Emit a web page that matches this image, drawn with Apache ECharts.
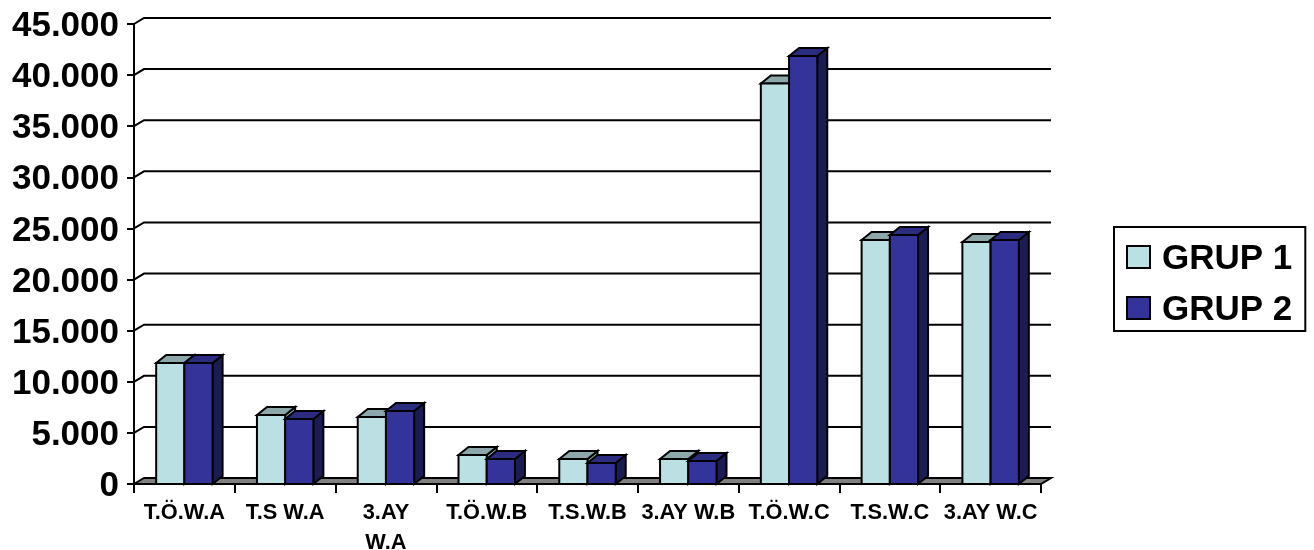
<!DOCTYPE html>
<html>
<head>
<meta charset="utf-8">
<style>html,body{margin:0;padding:0;background:#fff}#chart{width:1314px;height:550px}</style>
<script src="https://cdn.jsdelivr.net/npm/echarts@6/dist/echarts.min.js"></script>
</head>
<body>
<div id="chart"></div>
<script>
const categories = ['T.Ö.W.A', 'T.S W.A', '3.AY\nW.A', 'T.Ö.W.B', 'T.S.W.B', '3.AY W.B', 'T.Ö.W.C', 'T.S.W.C', '3.AY W.C'];
const grup1 = [11840, 6750, 6550, 2840, 2450, 2450, 39180, 23870, 23670];
const grup2 = [11840, 6360, 7140, 2450, 2050, 2250, 41870, 24360, 23870];
const yTicks = [0, 5000, 10000, 15000, 20000, 25000, 30000, 35000, 40000, 45000];

const FONT = '"Liberation Sans", Arial, sans-serif';
const DEPTH_X = 10, DEPTH_Y = 6;          // oblique offset of the chart's back wall
const BAR_DX = 10, BAR_DY = 8;            // oblique offset of each column
const BAR_SHARE = 0.28;                   // column width as a share of the category band

const palette = [
  { front: '#BBE0E3', top: '#8CA8AA', side: '#8CA8AA' },
  { front: '#333399', top: '#2B2B80', side: '#1C1C55' }
];

const line = { stroke: '#000', lineWidth: 2, lineJoin: 'miter' };

// One oblique column: side and top faces first, then the front face over them.
function column(dodge) {
  return function (params, api) {
    const idx = api.value(0);
    const [cx, yTop] = api.coord([idx, api.value(1)]);
    const yBase = api.coord([idx, 0])[1];
    const w = api.size([1, 0])[0] * BAR_SHARE;
    const x0 = cx + dodge * w, x1 = x0 + w;
    const c = palette[dodge + 1];
    return {
      type: 'group',
      children: [
        { type: 'polygon', shape: { points: [[x1, yTop], [x1 + BAR_DX, yTop - BAR_DY], [x1 + BAR_DX, yBase - BAR_DY], [x1, yBase]] },
          style: Object.assign({ fill: c.side }, line) },
        { type: 'polygon', shape: { points: [[x0, yTop], [x0 + BAR_DX, yTop - BAR_DY], [x1 + BAR_DX, yTop - BAR_DY], [x1, yTop]] },
          style: Object.assign({ fill: c.top }, line) },
        { type: 'rect', shape: { x: x0, y: yTop, width: w, height: yBase - yTop },
          style: Object.assign({ fill: c.front }, line) }
      ]
    };
  };
}

// Gridline on the back wall with its short diagonal run to the value axis.
function wallLine(params, api) {
  const v = api.value(0);
  const y = api.coord([0, v])[1];
  const box = params.coordSys;
  const left = box.x, right = box.x + box.width;
  const children = [];
  if (v === 0) {
    children.push({ type: 'polygon',
      shape: { points: [[left, y], [left + DEPTH_X, y - DEPTH_Y], [right + DEPTH_X, y - DEPTH_Y], [right, y]] },
      style: Object.assign({ fill: '#808080' }, line) });
  } else {
    children.push({ type: 'polyline',
      shape: { points: [[left, y], [left + DEPTH_X, y - DEPTH_Y], [right + DEPTH_X, y - DEPTH_Y]] },
      style: Object.assign({ fill: null }, line) });
  }
  return { type: 'group', children };
}

const chart = echarts.init(document.getElementById('chart'), null, { renderer: 'canvas' });
chart.setOption({
  animation: false,
  backgroundColor: '#fff',
  grid: { left: 134, right: 273, top: 24, bottom: 66, containLabel: false, outerBoundsMode: 'none' },
  legend: {
    data: ['GRUP 1', 'GRUP 2'],
    orient: 'vertical',
    left: 1114,
    top: 227,
    padding: [10, 13, 3, 12],
    itemWidth: 23,
    itemHeight: 22,
    itemGap: 11,
    icon: 'rect',
    borderColor: '#000',
    borderWidth: 2,
    selectedMode: false,
    formatter: '{t|{name}}',
    textStyle: {
      rich: {
        t: { fontFamily: FONT, fontWeight: 'bold', fontSize: 35, color: '#000', lineHeight: 40, padding: [5, 0, 0, 7] }
      }
    }
  },
  xAxis: {
    type: 'category',
    data: categories,
    boundaryGap: true,
    axisLine: { lineStyle: { color: '#000', width: 2 } },
    axisTick: { show: true, alignWithLabel: false, length: 9, lineStyle: { color: '#000', width: 2 } },
    axisLabel: { interval: 0, margin: 14, fontFamily: FONT, fontWeight: 'bold', fontSize: 21.8, color: '#000', lineHeight: 30 },
    splitLine: { show: false }
  },
  yAxis: {
    type: 'value',
    min: 0,
    max: 45000,
    interval: 5000,
    axisLine: { show: true, lineStyle: { color: '#000', width: 2 } },
    axisTick: { show: true, length: 7, lineStyle: { color: '#000', width: 2 } },
    axisLabel: {
      margin: 15,
      formatter: v => '{n|' + String(v).replace(/\B(?=(\d{3})+$)/g, '.') + '}',
      rich: {
        n: { fontFamily: FONT, fontWeight: 'bold', fontSize: 35, color: '#000', padding: [5, 0, 0, 0] }
      }
    },
    splitLine: { show: false }
  },
  series: [
    {
      type: 'custom',
      name: 'wall',
      silent: true,
      clip: false,
      z: 1,
      renderItem: wallLine,
      encode: { y: 0 },
      data: yTicks.map(v => [v])
    },
    {
      type: 'custom',
      name: 'GRUP 1',
      clip: false,
      z: 2,
      itemStyle: { color: palette[0].front, borderColor: '#000', borderWidth: 2 },
      renderItem: column(-1),
      encode: { x: 0, y: 1 },
      data: grup1.map((v, i) => [i, v])
    },
    {
      type: 'custom',
      name: 'GRUP 2',
      clip: false,
      z: 3,
      itemStyle: { color: palette[1].front, borderColor: '#000', borderWidth: 2 },
      renderItem: column(0),
      encode: { x: 0, y: 1 },
      data: grup2.map((v, i) => [i, v])
    }
  ]
});
</script>
</body>
</html>
